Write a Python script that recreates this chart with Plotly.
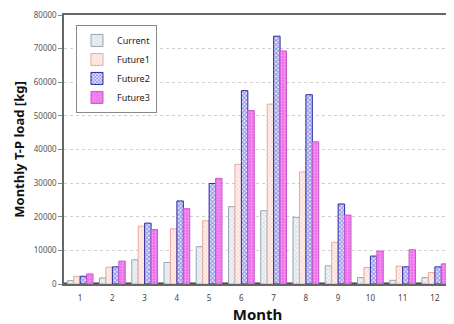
import plotly.graph_objects as go

months = list(range(1, 13))
month_labels = [str(m) for m in months]
y_ticks = [0, 10000, 20000, 30000, 40000, 50000, 60000, 70000, 80000]
baseline = [300] * 12
current = [1000, 1800, 7200, 6400, 11100, 23000, 21800, 19800, 5400, 1900, 1100, 1900]
future1 = [2300, 5000, 17200, 16400, 18800, 35600, 53500, 33300, 12400, 4900, 5300, 3400]
future2 = [2300, 5100, 18100, 24700, 29900, 57500, 73700, 56300, 23800, 8300, 5100, 5100]
future3 = [3000, 6800, 16200, 22400, 31400, 51600, 69300, 42300, 20500, 9800, 10200, 6000]

fig = go.Figure()

w = 0.2
series = [
    ("", baseline, dict(color="#555555", line=dict(color="#444444", width=1)), False),
    ("Current", current, dict(color="#e4ecf2", line=dict(color="#9aa4ae", width=1),
                              pattern=dict(shape="x", fgcolor="#a9bccb", bgcolor="#eef3f7", size=3, solidity=0.35)), True),
    ("Future1", future1, dict(color="#fbd8cf", line=dict(color="#e9a99a", width=1),
                              pattern=dict(shape="x", fgcolor="#eea898", bgcolor="#fdf0ec", size=3, solidity=0.35)), True),
    ("Future2", future2, dict(color="#3c3cd0", line=dict(color="#2a2aa0", width=1),
                              pattern=dict(shape="x", fgcolor="#3535c8", bgcolor="#e8e8ff", size=3, solidity=0.55)), True),
    ("Future3", future3, dict(color="#f27af2", line=dict(color="#c85ac8", width=1),
                              pattern=dict(shape=".", fgcolor="#fbd0fb", bgcolor="#ee6fee", size=3, solidity=0.3)), True),
]
for i, (name, vals, marker, show) in enumerate(series):
    fig.add_trace(go.Bar(x=months, y=vals, name=name, marker=marker, width=w,
                         offset=-0.6 + w * i, showlegend=show))

# page body has an 8px margin, so the figure is sized to fill the rest of the window
fig.update_layout(
    width=446, height=316,
    margin=dict(l=56, r=1, t=5, b=40),
    paper_bgcolor="white", plot_bgcolor="white",
    barmode="overlay",
    font=dict(family="Noto Sans, Open Sans, sans-serif", color="#333"),
    legend=dict(x=0.031, y=0.963, xanchor="left", yanchor="top",
                bordercolor="#888", borderwidth=1, bgcolor="white",
                font=dict(size=9, color="#222"), tracegroupgap=5, itemwidth=30),
    xaxis=dict(range=[0.5, 12.5], tickvals=months, ticktext=month_labels,
               showgrid=False, showline=True, linecolor="#666", linewidth=1.5, mirror=True,
               ticks="", ticklabelstandoff=6, tickfont=dict(size=8, color="#444"),
               title=dict(text="<b>Month</b>", font=dict(size=15, color="#111"), standoff=8)),
    yaxis=dict(range=[0, 80000], tickvals=y_ticks, ticktext=[str(v) for v in y_ticks],
               ticklabeloverflow="allow",
               showgrid=True, gridcolor="#cfcfcf", griddash="dot",
               showline=True, linecolor="#666", linewidth=1.5, mirror=True,
               ticks="outside", ticklen=4, tickcolor="#888",
               tickfont=dict(size=8, color="#555"),
               title=dict(text="<b>Monthly T-P load [kg]</b>", font=dict(size=13, color="#111"), standoff=6)),
)

fig.write_html("out.html")
